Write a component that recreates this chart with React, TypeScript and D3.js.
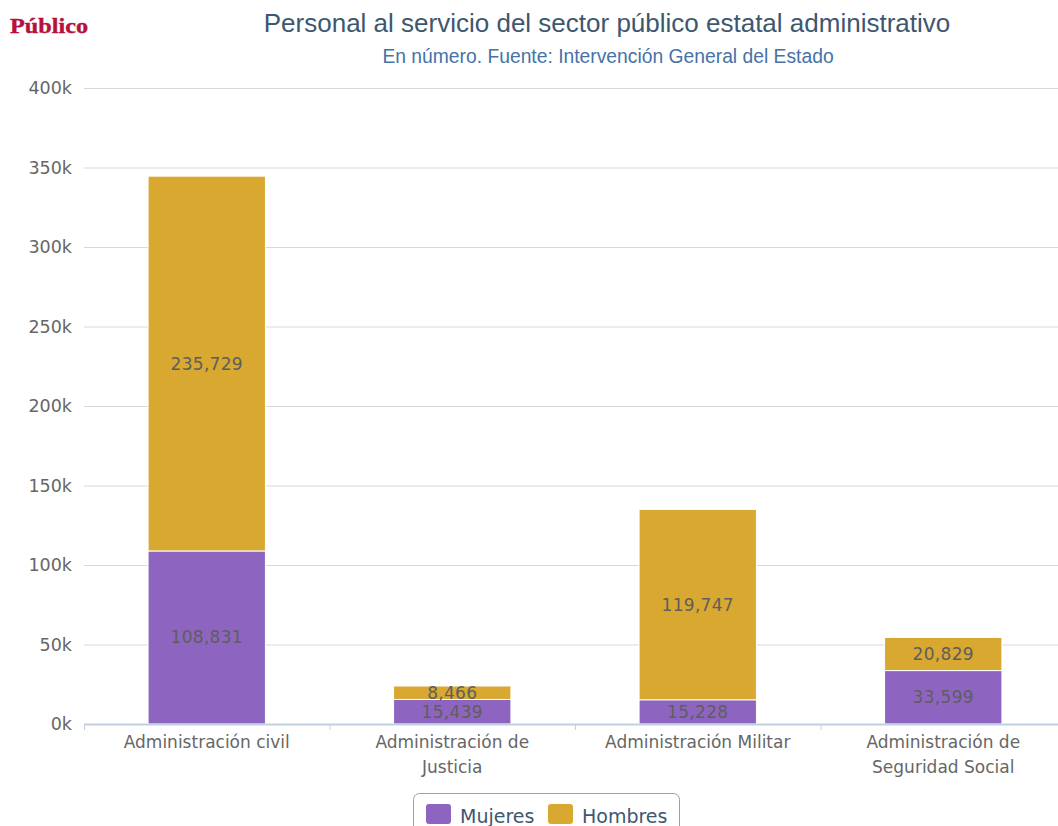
import React from "react";
import * as d3 from "d3";

document.body.style.margin = "0";

const categories = [
  ["Administración civil"],
  ["Administración de", "Justicia"],
  ["Administración Militar"],
  ["Administración de", "Seguridad Social"],
];
const mujeres = [108831, 15439, 15228, 33599];
const hombres = [235729, 8466, 119747, 20829];
const yTicks = [0, 50000, 100000, 150000, 200000, 250000, 300000, 350000, 400000];
const seriesNames = ["Mujeres", "Hombres"];
const colors = ["#8d65c0", "#d8a830"];

const W = 1058, H = 826;
const left = 84, right = 1066, top = 88, bottom = 724;

export default function App() {
  const x = d3.scaleBand<number>().domain(d3.range(categories.length)).range([left, right]).paddingInner(0).paddingOuter(0);
  const y = d3.scaleLinear().domain([0, 400000]).range([bottom, top]);
  const bw = x.bandwidth() * 0.478;
  const fmt = d3.format(",");
  const stacks = categories.map((_, i) => {
    const m = mujeres[i], h = hombres[i];
    return [
      { s: 0, y0: 0, y1: m, v: m },
      { s: 1, y0: m, y1: m + h, v: h },
    ];
  });
  const axisFont = "'DejaVu Sans', Verdana, sans-serif";
  return (
    <svg width={W} height={H} style={{ display: "block", background: "#fff" }}>
      <text x={10} y={33} fontFamily="'Liberation Serif', 'DejaVu Serif', serif" fontWeight="bold" fontSize={22} fill="#b8103c" stroke="#b8103c" strokeWidth={0.4} textLength={78} lengthAdjust="spacingAndGlyphs">Público</text>
      <text x={607} y={32} textAnchor="middle" fontFamily="'Liberation Sans', Arial, sans-serif" fontSize={26} fill="#3e576f">Personal al servicio del sector público estatal administrativo</text>
      <text x={608} y={63} textAnchor="middle" fontFamily="'Liberation Sans', Arial, sans-serif" fontSize={19.3} fill="#4572a7">En número. Fuente: Intervención General del Estado</text>
      {yTicks.map((t) => (
        <g key={t}>
          {t > 0 && <line x1={left} x2={right} y1={y(t) + 0.5} y2={y(t) + 0.5} stroke="#d8d8d8" strokeWidth={1} />}
          <text x={72} y={y(t) + 6} textAnchor="end" fontFamily={axisFont} fontSize={17.5} fill="#666">{t / 1000 + "k"}</text>
        </g>
      ))}
      {stacks.map((st, i) =>
        st.map((seg) => (
          <rect key={i + "-" + seg.s} x={x(i)! + (x.bandwidth() - bw) / 2} y={y(seg.y1)} width={bw} height={y(seg.y0) - y(seg.y1)} fill={colors[seg.s]} stroke="#fff" strokeWidth={1} />
        ))
      )}
      <line x1={left} x2={right} y1={bottom + 0.5} y2={bottom + 0.5} stroke="#c0d0e0" strokeWidth={2} />
      {d3.range(categories.length + 1).map((i) => (
        <line key={i} x1={left + i * x.bandwidth() + 0.5} x2={left + i * x.bandwidth() + 0.5} y1={bottom} y2={bottom + 6} stroke="#c0d0e0" strokeWidth={1} />
      ))}
      {stacks.map((st, i) =>
        st.map((seg) => (
          <text key={"l" + i + "-" + seg.s} x={x(i)! + x.bandwidth() / 2} y={(y(seg.y0) + y(seg.y1)) / 2 + 6} textAnchor="middle" fontFamily={axisFont} fontSize={17} fill="#5e5e5e" letterSpacing={0.3}>{fmt(seg.v)}</text>
        ))
      )}
      {categories.map((lines, i) => (
        <text key={"c" + i} x={x(i)! + x.bandwidth() / 2} textAnchor="middle" fontFamily={axisFont} fontSize={17} fill="#666">
          {lines.map((ln, j) => (
            <tspan key={j} x={x(i)! + x.bandwidth() / 2} y={748 + j * 25}>{ln}</tspan>
          ))}
        </text>
      ))}
      <rect x={413.5} y={793.5} width={266} height={50} rx={6} fill="#fff" stroke="#a0a0a0" strokeWidth={1} />
      {seriesNames.map((n, k) => {
        const lx = k === 0 ? 426 : 548;
        return (
          <g key={n}>
            <rect x={lx} y={804} width={25} height={20} rx={3} fill={colors[k]} />
            <text x={lx + 34} y={823} fontFamily={axisFont} fontSize={19} fill="#3e576f">{n}</text>
          </g>
        );
      })}
    </svg>
  );
}
